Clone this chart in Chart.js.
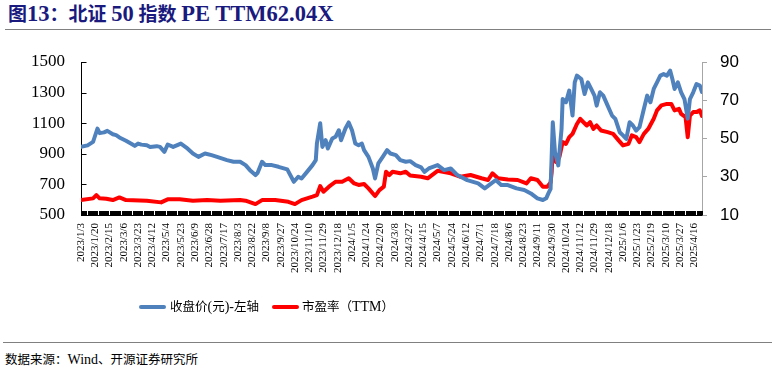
<!DOCTYPE html>
<html><head><meta charset="utf-8">
<script src="https://cdn.jsdelivr.net/npm/chart.js@4"></script>
<style>
html,body{margin:0;padding:0;background:#fff;width:774px;height:373px;overflow:hidden;position:relative;font-family:"Liberation Serif","Noto Sans CJK SC",serif;color:#000;}
#title{position:absolute;left:8px;top:2px;font-size:19px;line-height:24px;font-weight:bold;color:#1a1a7e;white-space:nowrap;}
#title .l{font-size:22.5px;}
.rule{position:absolute;height:0;border-top:1.5px solid #808080;}
#wrap{position:absolute;left:0;top:0;width:774px;height:300px;}
.sw{position:absolute;height:4px;border-radius:2px;}
.lt{position:absolute;font-size:12.5px;line-height:16px;white-space:nowrap;}
.lt .l{font-size:14px;}
#src{position:absolute;left:5px;top:352px;font-size:12.5px;line-height:16px;white-space:nowrap;}
#src .l{font-size:14px;}
</style></head>
<body>
<div id="title">图<span class="l">13</span>：北证 <span class="l">50</span> 指数 <span class="l">PE TTM62.04X</span></div>
<div class="rule" style="left:5px;top:29px;width:766px;"></div>
<div id="wrap"><canvas id="c" width="774" height="300"></canvas></div>
<div class="sw" style="left:139px;top:305px;width:27px;background:#4F81BD;"></div>
<div class="lt" style="left:170px;top:299px;">收盘价<span class="l">(</span>元<span class="l">)-</span>左轴</div>
<div class="sw" style="left:272px;top:305px;width:27px;background:#FF0000;"></div>
<div class="lt" style="left:302px;top:299px;">市盈率（<span class="l">TTM</span>）</div>
<div class="rule" style="left:3px;top:342px;width:769px;"></div>
<div id="src">数据来源：<span class="l">Wind</span>、开源证券研究所</div>
<script>
// x tick labels: one every 13 trading days
const tickLabels = ['2023/1/3','2023/1/20','2023/2/15','2023/3/6','2023/3/23','2023/4/12','2023/5/4','2023/5/23','2023/6/9','2023/6/28','2023/7/17','2023/8/3','2023/8/22','2023/9/8','2023/9/27','2023/10/24','2023/11/10','2023/11/29','2023/12/18','2024/1/5','2024/1/24','2024/2/20','2024/3/8','2024/3/27','2024/4/15','2024/5/7','2024/5/24','2024/6/12','2024/7/1','2024/7/18','2024/8/6','2024/8/23','2024/9/11','2024/9/30','2024/10/24','2024/11/12','2024/11/29','2024/12/18','2025/1/6','2025/1/23','2025/2/19','2025/3/10','2025/3/27','2025/4/16'];
const labelStep = 13;
const lastDay = 566;

// closing price (trading-day index, value)
const closeIdx = [0,6,11,12,15,17,21,24,29,32,35,41,47,49,52,55,60,63,69,72,76,79,84,91,96,102,107,113,119,124,133,139,145,150,154,159,161,165,168,174,180,188,194,198,201,206,211,214,215,218,220,223,225,229,232,235,237,241,244,247,250,253,256,258,262,266,268,271,275,279,282,287,291,296,300,305,310,313,317,325,331,337,343,352,362,368,374,378,383,389,397,404,410,416,421,424,426,428,430,432,435,438,439,442,445,448,450,452,456,459,462,465,468,470,473,476,480,484,487,491,494,497,500,503,506,509,513,516,519,522,525,528,531,534,537,539,541,544,547,550,553,555,558,561,564,566];
const closeVals = [945,955,978,1000,1065,1035,1040,1050,1028,1022,1007,985,961,952,967,960,956,945,950,945,913,961,945,967,941,902,880,902,891,880,859,848,848,826,793,761,776,848,826,826,815,798,717,750,739,782,826,859,967,1100,945,989,935,1000,1011,1054,989,1065,1105,1054,967,956,967,924,880,804,739,837,880,924,902,891,859,848,852,826,811,782,804,826,793,804,761,728,707,674,707,728,696,696,674,663,641,609,598,609,641,671,1106,911,824,1063,1258,1237,1313,1150,1367,1411,1389,1291,1367,1324,1280,1215,1302,1280,1215,1150,1128,1041,1020,997,1106,1085,1052,1074,1193,1280,1237,1324,1367,1411,1421,1411,1443,1389,1324,1367,1302,1258,1130,1258,1302,1356,1346,1304];

// PE TTM (trading-day index, value)
const peIdx = [0,11,14,17,23,29,35,41,60,73,79,90,102,115,127,145,150,159,165,177,189,195,201,211,215,218,221,226,232,238,244,249,253,258,262,268,272,276,278,281,284,291,296,300,310,316,325,337,346,355,365,371,375,380,389,398,406,410,416,421,425,428,429,430,433,436,439,442,445,448,452,455,458,461,464,467,470,474,480,485,490,494,499,502,506,509,513,517,522,525,529,534,538,541,545,547,551,553,555,558,561,564,566];
const peVals = [17.8,18.7,20.4,18.7,18.5,17.8,19.2,17.8,17.5,16.6,18.2,18.2,17.5,17.8,17.5,17.8,17.5,15.7,17.8,17.8,16.9,15.7,17.8,19.6,20.4,25.1,22.2,24.8,27.4,27.4,29.2,26.5,25.7,26.2,23.9,19.9,23,24.8,32.6,30.9,32.6,31.8,32.6,30.6,30,29.2,33.1,31.8,30,30.9,29.2,28.3,31.8,29.2,28.6,28.3,26.5,29.2,28.3,24.8,24.8,27,32.4,43.8,37.7,40.3,48.1,47.2,50.7,52.4,57.6,60.3,58.5,56.8,58.5,55,56.8,54.2,53.3,52.4,49,46.4,47.2,51.6,50.7,48.1,52.4,55,60.3,64.7,67.3,68.1,68.1,64.7,65.5,62.9,61.2,50.7,62,63.8,63.8,64.7,61.8];

const leftTicks = {min:500, max:1500, step:200};
const rightTicks = {min:10, max:90, step:20};

// draws inward tick marks for the x axis (every trading day) and the left axis, at the scales' own tick positions
const insideTicks = {
  id: 'insideTicks',
  beforeDatasetsDraw(chart) {
    const ctx = chart.ctx, xs = chart.scales.x, ys = chart.scales.y;
    ctx.save();
    ctx.strokeStyle = '#000';
    ctx.lineWidth = 1;
    ctx.beginPath();
    const yb = Math.round(xs.top) + 0.5;
    xs.ticks.forEach(t => {
      const px = Math.round(xs.getPixelForValue(t.value)) + 0.5;
      ctx.moveTo(px, yb); ctx.lineTo(px, yb - 4.5);
    });
    const xl = Math.round(ys.right) + 0.5;
    ys.ticks.forEach(t => {
      const py = Math.round(ys.getPixelForValue(t.value)) + 0.5;
      ctx.moveTo(xl, py); ctx.lineTo(xl + 5, py);
    });
    ctx.stroke();
    ctx.restore();
  }
};

new Chart(document.getElementById('c'), {
  type: 'line',
  data: {
    datasets: [
      {label:'收盘价(元)-左轴', data: closeIdx.map((d,i)=>({x:d, y:closeVals[i]})), borderColor:'#4F81BD', backgroundColor:'#4F81BD', borderWidth:4, pointRadius:0, tension:0, yAxisID:'y', borderJoinStyle:'round', borderCapStyle:'round'},
      {label:'市盈率（TTM）', data: peIdx.map((d,i)=>({x:d, y:peVals[i]})), borderColor:'#FF0000', backgroundColor:'#FF0000', borderWidth:4, pointRadius:0, tension:0, yAxisID:'y1', borderJoinStyle:'round', borderCapStyle:'round'}
    ]
  },
  plugins: [insideTicks],
  options: {
    responsive:false, animation:false,
    layout:{padding:{top:62,left:0,right:0,bottom:0}},
    plugins:{legend:{display:false}, tooltip:{enabled:false}},
    scales:{
      x:{type:'linear', position:'bottom', min:0, max:lastDay,
        grid:{drawOnChartArea:false, drawTicks:false},
        border:{color:'#000', width:1},
        ticks:{stepSize:1, autoSkip:false, maxRotation:90, minRotation:90, padding:8, color:'#000',
          font:{family:'Liberation Serif', size:11},
          callback:(v)=>{ const k = v/labelStep; return (Number.isInteger(k) && tickLabels[k]) ? tickLabels[k] : ''; }},
        afterFit:(s)=>{ s.height = 85; }
      },
      y:{position:'left', min:leftTicks.min, max:leftTicks.max,
        grid:{drawOnChartArea:false, drawTicks:false},
        border:{color:'#000', width:1},
        ticks:{stepSize:leftTicks.step, padding:16, color:'#000', font:{family:'Liberation Serif', size:17}, callback:(v)=>String(v)},
        afterFit:(s)=>{ s.width = 81; }
      },
      y1:{position:'right', min:rightTicks.min, max:rightTicks.max,
        grid:{drawOnChartArea:false, tickLength:5, color:'#A6A6A6'},
        border:{color:'#A6A6A6', width:1},
        ticks:{stepSize:rightTicks.step, padding:13, color:'#000', font:{family:'Liberation Sans', size:17}, callback:(v)=>String(v)},
        afterFit:(s)=>{ s.width = 72; }
      }
    }
  }
});
</script>
</body></html>
